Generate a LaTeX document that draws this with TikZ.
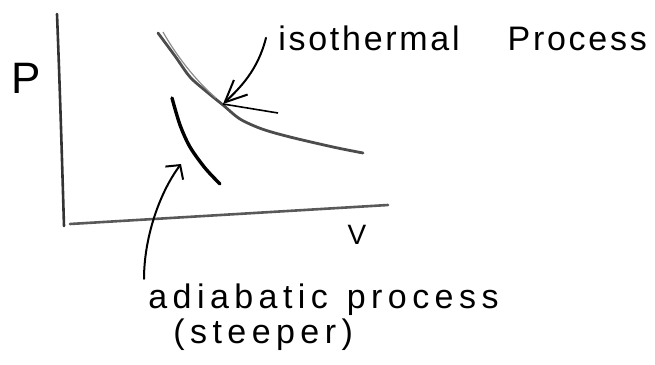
\documentclass[tikz,border=0pt]{standalone}
\usepackage{fontspec}
\setmainfont{Liberation Sans}
\usetikzlibrary{arrows.meta}
\tikzset{
  axis/.style={line width=1.3pt, black!80, line cap=round},
  curve/.style={line width=1.4pt, black!70, line cap=round},
  pointer/.style={line width=1pt, line cap=round, -{Straight Barb[length=11pt,width=10pt]}},
  lbl/.style={inner sep=2pt, font=\fontsize{17}{20}\selectfont}
}
\begin{document}
\begin{tikzpicture}[x=0.5pt,y=-0.5pt]
\useasboundingbox (0,0) rectangle (655,365);

% axes
\draw[axis] (57,14) .. controls (60,90) and (62,160) .. (64,226);
\draw[axis, black!65] (70,224) -- (388,205);
\node (P) at (26,78) [lbl, font=\fontsize{22}{26}\selectfont] {P};
\node (V) at (357,235) [lbl, font=\fontsize{14}{16}\selectfont] {V};

% isothermal
\draw[curve] plot[smooth] coordinates {(158,33) (175,56) (190,77) (207,92) (223,105) (240,119) (262,129) (290,137) (333,147) (363,153)};
\draw[black!45, line width=0.6pt] (163,32) .. controls (176,55) and (195,80) .. (216,98);
\coordinate (iso) at (223,104);
\draw[line width=0.8pt] (iso) -- (278,113);

% adiabatic
\draw[curve, black, line width=1.7pt] plot[smooth] coordinates {(172,98) (180,125) (190,147) (205,168) (220,184)};
\coordinate (adi) at (181,164);

% labels
\node (isolbl) at (266,50) [lbl, inner xsep=6pt, anchor=base west] {\addfontfeature{LetterSpace=8}isothermal\hspace{24pt}Process};
\node (adilbl) at (144,308) [lbl, anchor=base west] {\addfontfeature{LetterSpace=16}adiabatic\hspace{2pt} process};
\node (steep) at (169,343) [lbl, anchor=base west] {\addfontfeature{LetterSpace=16}(steeper)};

\draw[pointer] (isolbl.west) .. controls (258,70) and (240,88) .. (iso);
\draw[pointer, -{Straight Barb[length=5pt,width=11pt]}] (adilbl.north west) .. controls (144,240) and (158,195) .. (adi);
\end{tikzpicture}
\end{document}
